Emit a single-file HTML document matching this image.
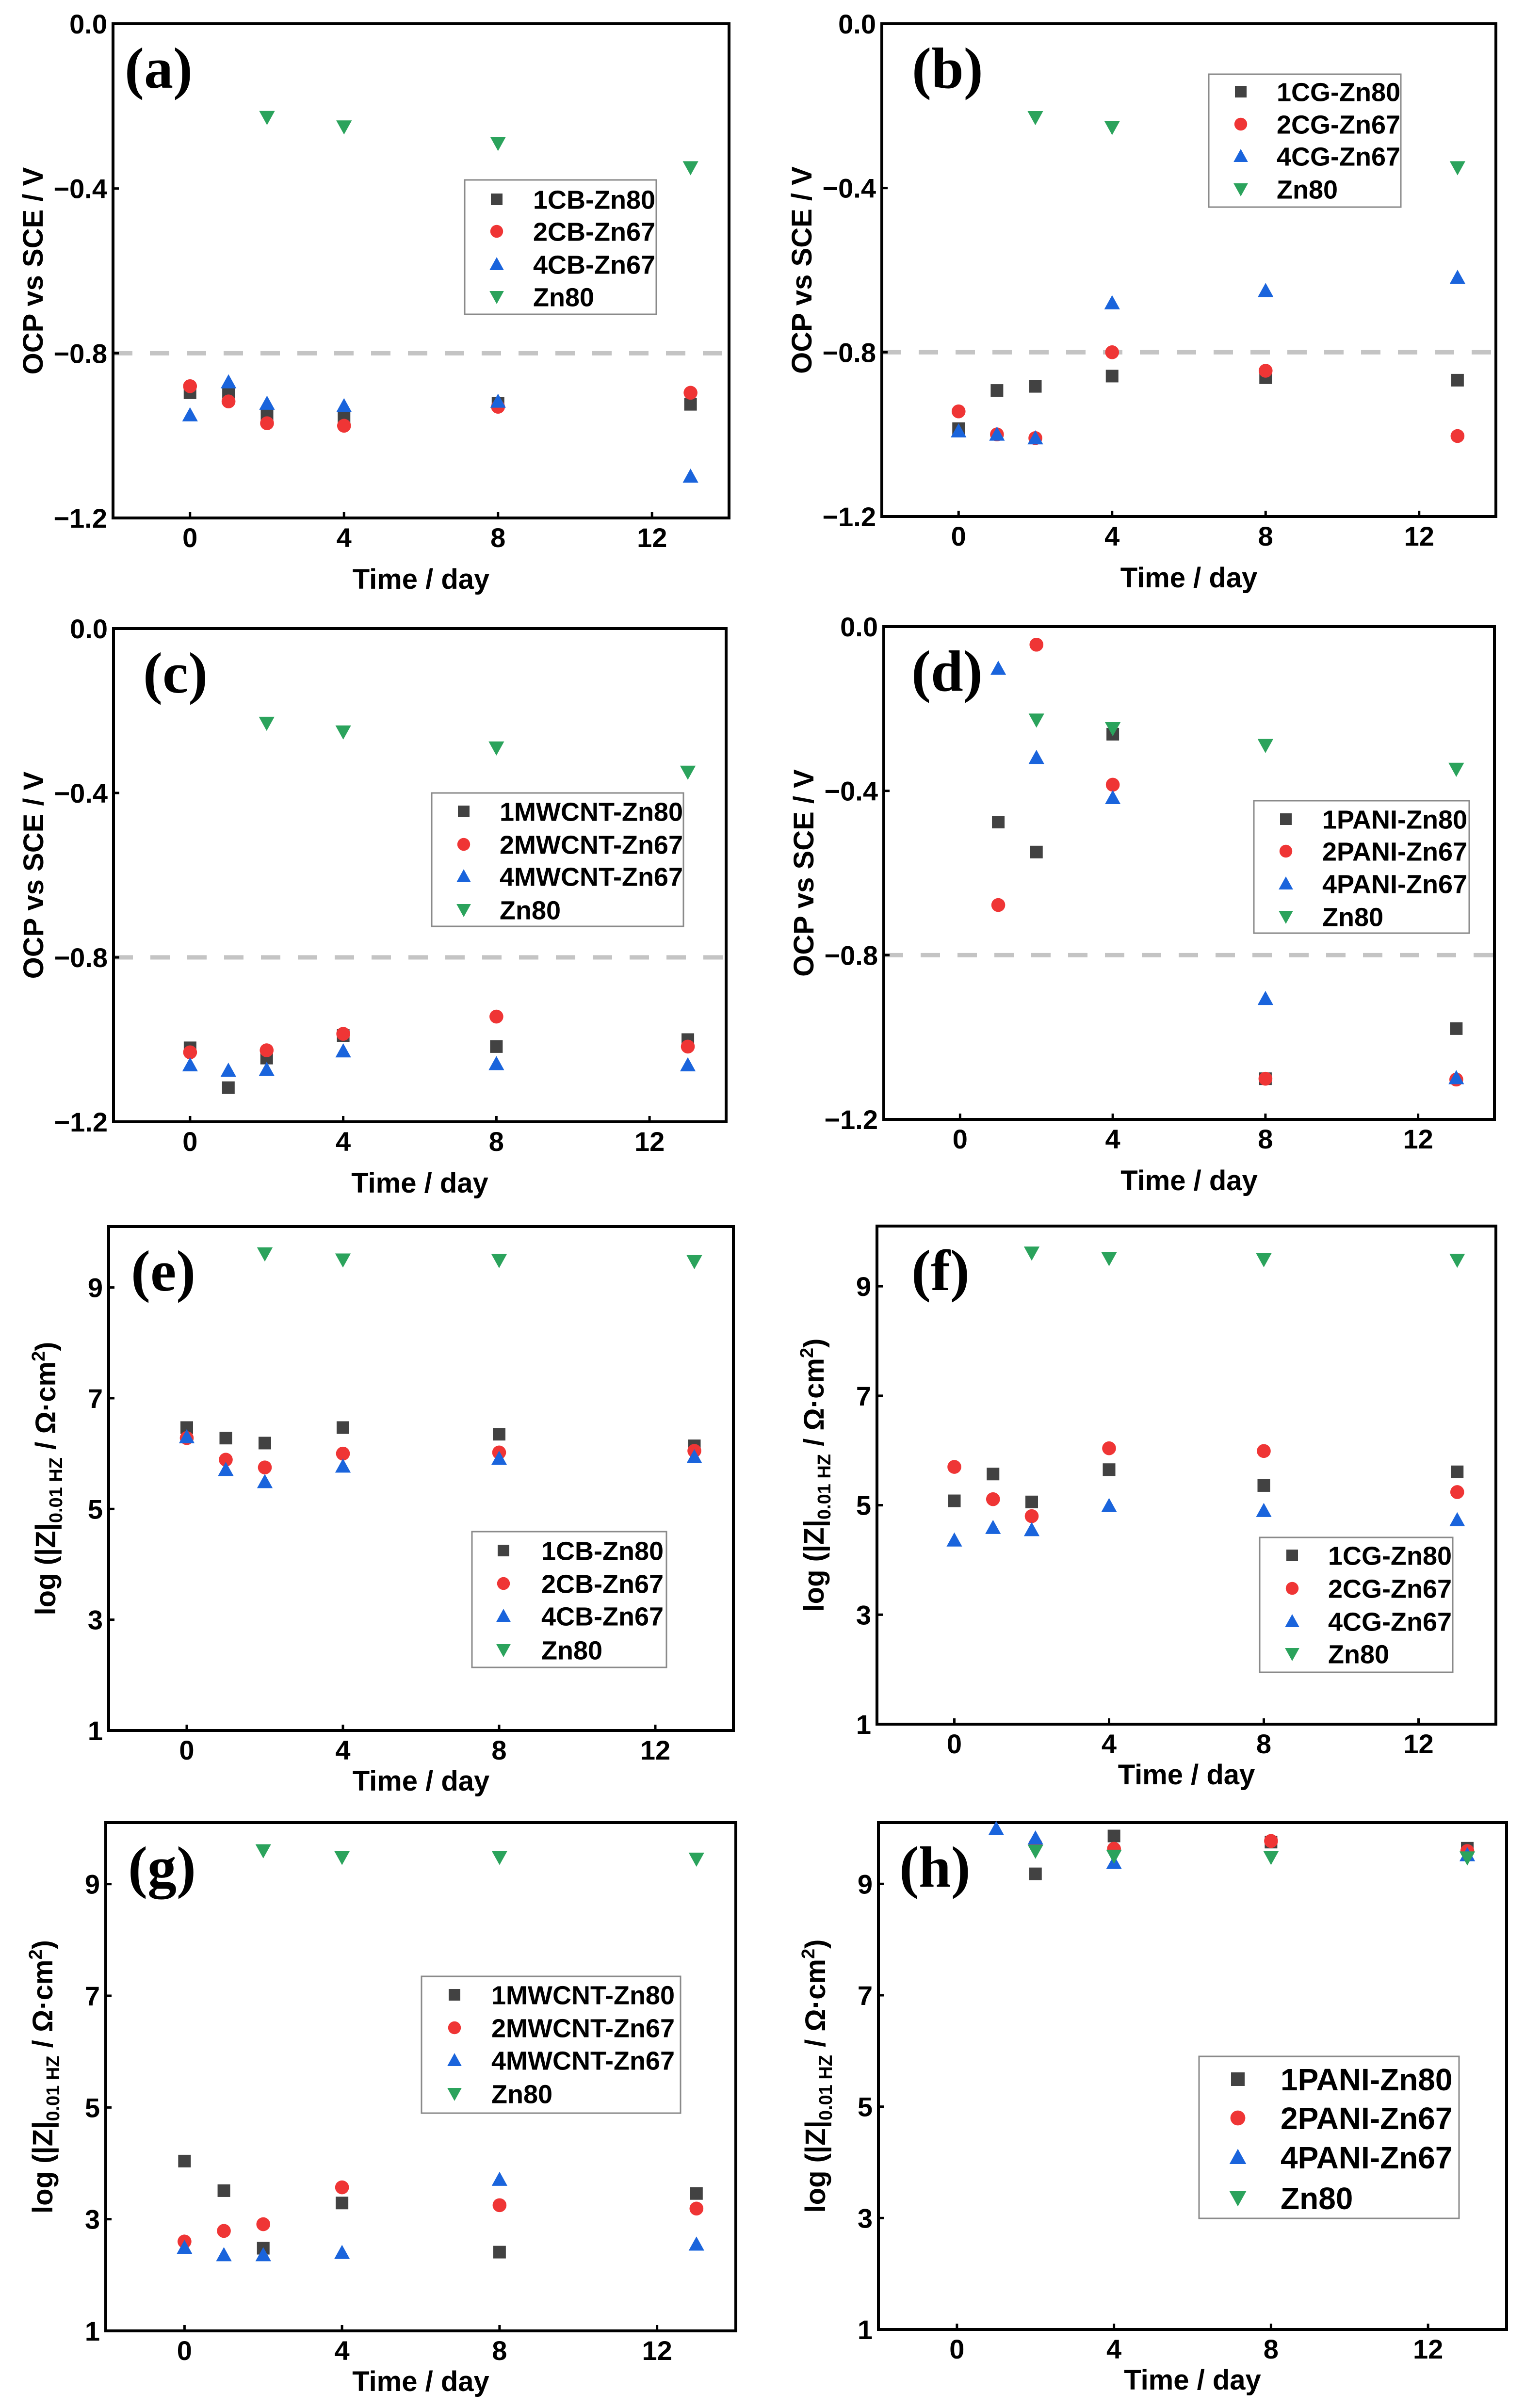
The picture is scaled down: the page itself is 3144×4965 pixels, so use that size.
<!DOCTYPE html>
<html><head><meta charset="utf-8"><title>OCP and impedance panels</title>
<style>html,body{margin:0;padding:0;background:#fff}svg{display:block}text{font-family:"Liberation Sans",Arial,sans-serif;font-weight:bold}</style>
</head><body>
<svg id="fig" xmlns="http://www.w3.org/2000/svg" width="3144" height="4965" viewBox="0 0 3144 4965"></svg>
<script>
// shared
const days = [0, 1, 2, 4, 8, 13];
const xTicks = [0, 4, 8, 12];
const ocpTicks = [0.0, -0.4, -0.8, -1.2];
const ocpTickLabels = ["0.0", "\u22120.4", "\u22120.8", "\u22121.2"];
const logTicks = [1, 3, 5, 7, 9];
const logTickLabels = ["1", "3", "5", "7", "9"];
const seriesColors = ["#424242", "#ef3535", "#1a64dc", "#2ba35c"];

// (a) CB OCP
const aNames = ["1CB-Zn80", "2CB-Zn67", "4CB-Zn67", "Zn80"];
const aS1 = [-0.896, -0.894, -0.948, -0.954, -0.922, -0.924];
const aS2 = [-0.880, -0.917, -0.970, -0.976, -0.930, -0.896];
const aS3 = [-0.950, -0.870, -0.922, -0.928, -0.917, -1.099];
const aS4 = [null, null, -0.227, -0.250, -0.290, -0.349];
// (b) CG OCP
const bNames = ["1CG-Zn80", "2CG-Zn67", "4CG-Zn67", "Zn80"];
const bS1 = [-0.986, -0.893, -0.883, -0.858, -0.862, -0.868];
const bS2 = [-0.944, -1.000, -1.009, -0.800, -0.845, -1.004];
const bS3 = [-0.992, -1.000, -1.009, -0.680, -0.650, -0.618];
const bS4 = [null, null, -0.228, -0.252, null, -0.350];
// (c) MWCNT OCP
const cNames = ["1MWCNT-Zn80", "2MWCNT-Zn67", "4MWCNT-Zn67", "Zn80"];
const cS1 = [-1.020, -1.117, -1.045, -0.990, -1.017, -1.000];
const cS2 = [-1.031, null, -1.026, -0.986, -0.944, -1.017];
const cS3 = [-1.062, -1.075, -1.073, -1.028, -1.059, -1.062];
const cS4 = [null, null, -0.230, -0.251, -0.290, -0.349];
// (d) PANI OCP
const dNames = ["1PANI-Zn80", "2PANI-Zn67", "4PANI-Zn67", "Zn80"];
const dS1 = [null, -0.476, -0.549, -0.262, -1.101, -0.979];
const dS2 = [null, -0.678, -0.044, -0.385, -1.101, -1.103];
const dS3 = [null, -0.102, -0.319, -0.417, -0.906, -1.099];
const dS4 = [null, null, -0.227, -0.248, -0.289, -0.347];
// (e) CB log|Z|
const eS1 = [6.47, 6.28, 6.19, 6.47, 6.35, 6.14];
const eS2 = [6.28, 5.89, 5.75, 6.00, 6.02, 6.05];
const eS3 = [6.30, 5.71, 5.49, 5.77, 5.91, 5.94];
const eS4 = [null, null, 9.61, 9.50, 9.49, 9.47];
// (f) CG log|Z|
const fS1 = [5.08, 5.57, 5.06, 5.65, 5.36, 5.61];
const fS2 = [5.70, 5.11, 4.80, 6.04, 5.99, 5.24];
const fS3 = [4.36, 4.59, 4.55, 4.99, 4.90, 4.73];
const fS4 = [null, null, 9.61, 9.51, 9.49, 9.48];
// (g) MWCNT log|Z|
const gS1 = [4.04, 3.51, 2.48, 3.29, 2.41, 3.46];
const gS2 = [2.60, 2.79, 2.91, 3.57, 3.25, 3.19];
const gS3 = [2.49, 2.36, 2.36, 2.40, 3.71, 2.55];
const gS4 = [null, null, 9.60, 9.48, 9.48, 9.45];
// (h) PANI log|Z|
const hS1 = [null, null, 9.18, 9.86, 9.75, 9.64];
const hS2 = [null, null, 9.71, 9.63, 9.77, 9.59];
const hS3 = [null, 9.99, 9.82, 9.38, null, 9.52];
const hS4 = [null, null, 9.59, 9.50, 9.48, 9.47];

const NS = "http://www.w3.org/2000/svg";
const svg = document.getElementById("fig");
function mk(tag, attrs, parent) {
  const e = document.createElementNS(NS, tag);
  for (const k in attrs) e.setAttribute(k, attrs[k]);
  (parent || svg).appendChild(e);
  return e;
}

const panels = [
  {id:"a", box:[233,49,1503,1068], ocp:true, series:[aS1,aS2,aS3,aS4], names:aNames, leg:[958,371,1353,648], mx:1024, tx:1099, rows:[411,477,545,612], fs:54, lx:24},
  {id:"b", box:[1818,49,3084,1065], ocp:true, series:[bS1,bS2,bS3,bS4], names:bNames, leg:[2492,153,2888,427], mx:2558, tx:2632, rows:[189,256,322,390], fs:54, lx:62},
  {id:"c", box:[234,1296,1497,2313], ocp:true, series:[cS1,cS2,cS3,cS4], names:cNames, leg:[890,1635,1409,1910], mx:956, tx:1030, rows:[1673,1741,1807,1876], fs:54, lx:61},
  {id:"d", box:[1822,1292,3081,2308], ocp:true, series:[dS1,dS2,dS3,dS4], names:dNames, leg:[2585,1651,3029,1924], mx:2651, tx:2726, rows:[1689,1755,1822,1890], fs:54, lx:57},
  {id:"e", box:[224,2529,1512,3568], ocp:false, series:[eS1,eS2,eS3,eS4], names:aNames, leg:[973,3158,1374,3438], mx:1038, tx:1116, rows:[3197,3265,3332,3402], fs:54, lx:46},
  {id:"f", box:[1808,2528,3084,3555], ocp:false, series:[fS1,fS2,fS3,fS4], names:bNames, leg:[2597,3170,2995,3448], mx:2664, tx:2738, rows:[3207,3275,3343,3410], fs:54, lx:71},
  {id:"g", box:[218,3758,1517,4806], ocp:false, series:[gS1,gS2,gS3,gS4], names:cNames, leg:[869,4075,1403,4357], mx:937, tx:1013, rows:[4113,4181,4248,4317], fs:54, lx:46},
  {id:"h", box:[1811,3758,3106,4803], ocp:false, series:[hS1,hS2,hS3,hS4], names:dNames, leg:[2472,4240,3008,4574], mx:2552, tx:2640, rows:[4287,4367,4448,4532], fs:64, lx:43}
];

function marker(g, type, cx, cy, color, s) {
  let el;
  if (type === 0) el = mk("rect", {x:cx-s/2, y:cy-s/2, width:s, height:s, fill:color}, g);
  else if (type === 1) el = mk("circle", {cx:cx, cy:cy, r:s*0.55, fill:color}, g);
  else if (type === 2) el = mk("polygon", {points:`${cx},${cy-s*0.62} ${cx-s*0.62},${cy+s*0.5} ${cx+s*0.62},${cy+s*0.5}`, fill:color}, g);
  else el = mk("polygon", {points:`${cx},${cy+s*0.62} ${cx-s*0.62},${cy-s*0.5} ${cx+s*0.62},${cy-s*0.5}`, fill:color}, g);
  return el;
}

panels.forEach(p => {
  const [x0,y0,x1,y1] = p.box;
  const ymin = p.ocp ? -1.2 : 1, ymax = p.ocp ? 0 : 10.1;
  const X = v => x0 + (v + 2) / 16 * (x1 - x0);
  const Y = v => y1 - (v - ymin) / (ymax - ymin) * (y1 - y0);
  const g = mk("g", {});
  
  

  if (p.ocp) {
    const dl = mk("line", {x1:x0, x2:x1, y1:Y(-0.8), y2:Y(-0.8), stroke:"#c4c4c4", "stroke-width":9, "stroke-dasharray":"40 36"}, g);
    
    
  }
  const yt = p.ocp ? ocpTicks : logTicks, ytl = p.ocp ? ocpTickLabels : logTickLabels;
  yt.forEach((v, i) => {
    mk("line", {x1:x0, x2:x0+12, y1:Y(v), y2:Y(v), stroke:"#000", "stroke-width":5}, g);
    const t = mk("text", {x:x0-12, y:Y(v)+20, "font-size":56, "text-anchor":"end"}, g);
    t.textContent = ytl[i];
    
    
  });
  xTicks.forEach(v => {
    mk("line", {x1:X(v), x2:X(v), y1:y1, y2:y1-12, stroke:"#000", "stroke-width":5}, g);
    const t = mk("text", {x:X(v), y:y1+60, "font-size":56, "text-anchor":"middle"}, g);
    t.textContent = String(v);
    
    
  });
  const fr = mk("rect", {x:x0, y:y0, width:x1-x0, height:y1-y0, fill:"none", stroke:"#000", "stroke-width":6}, g);
  
  
  const xt = mk("text", {x:(x0+x1)/2, y:y1 + (p.ocp ? 146 : 124), "font-size":58, "text-anchor":"middle"}, g);
  xt.textContent = "Time / day";
  
  
  const ycx = x0 - (p.ocp ? 145 : 110), ycy = (y0+y1)/2;
  const ytt = mk("text", {x:ycx, y:ycy, "font-size":58, "text-anchor":"middle", transform:`rotate(-90 ${ycx} ${ycy})`}, g);
  
  
  if (p.ocp) ytt.textContent = "OCP vs SCE / V";
  else {
    const a = mk("tspan", {}, ytt); a.textContent = "log (|Z|";
    const b = mk("tspan", {"font-size":38, dy:14}, ytt); b.textContent = "0.01 HZ";
    const c = mk("tspan", {dy:-14}, ytt); c.textContent = " / \u03A9\u00B7cm";
    const d = mk("tspan", {"font-size":38, dy:-22}, ytt); d.textContent = "2";
    const e = mk("tspan", {dy:22}, ytt); e.textContent = ")";
  }
  const pl = mk("text", {x:x0+p.lx, y:y0+132, "font-size":120, style:"font-family:'Liberation Serif','Times New Roman',serif;font-weight:bold"}, g);
  pl.textContent = "(" + p.id + ")";
  
  
  p.series.forEach((arr, si) => {
    const sg = mk("g", {}, g);
    
    
    arr.forEach((v, i) => {
      if (v === null) return;
      const m = marker(sg, si, X(days[i]), Y(v), seriesColors[si], 26);
      
      
    });
  });
  const [lx0,ly0,lx1,ly1] = p.leg;
  const lg = mk("g", {}, g);
  
  
  mk("rect", {x:lx0, y:ly0, width:lx1-lx0, height:ly1-ly0, fill:"#fff", stroke:"#8a8a8a", "stroke-width":3}, lg);
  p.names.forEach((n, i) => {
    const le = mk("g", {}, lg);
    
    
    marker(le, i, p.mx, p.rows[i], seriesColors[i], p.fs === 64 ? 28 : 24);
    const t = mk("text", {x:p.tx, y:p.rows[i] + p.fs*0.36, "font-size":p.fs}, le);
    t.textContent = n;
  });
});
</script>
</body></html>
